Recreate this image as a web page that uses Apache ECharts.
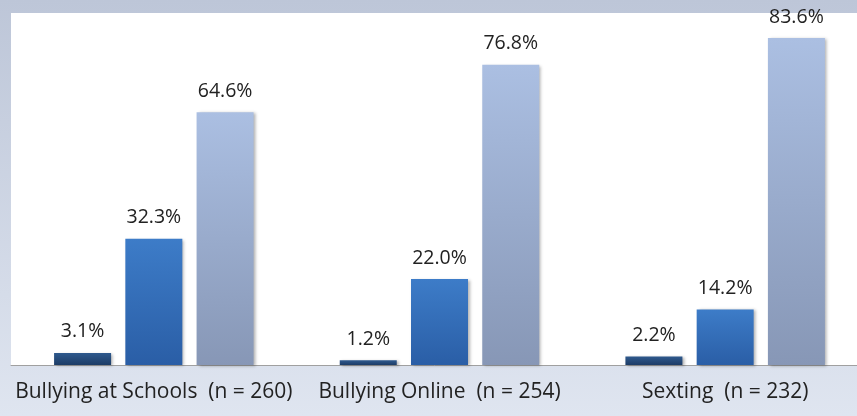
<!DOCTYPE html>
<html>
<head>
<meta charset="utf-8">
<script src="https://cdn.jsdelivr.net/npm/echarts@6/dist/echarts.min.js"></script>
<style>
  html, body { margin: 0; padding: 0; }
  #chart { width: 857px; height: 416px; }
</style>
</head>
<body>
<div id="chart"></div>
<script>
// categories and values
const categories = ['Bullying at Schools  (n = 260)', 'Bullying Online  (n = 254)', 'Sexting  (n = 232)'];
const seriesNames = ['Series 1', 'Series 2', 'Series 3'];
const values1 = [3.1, 1.2, 2.2];
const values2 = [32.3, 22.0, 14.2];
const values3 = [64.6, 76.8, 83.6];

const barColors = [
    ['#2f5a8e', '#1d3c66'],
    ['#3d7cc8', '#2a5ea6'],
    ['#abbfe2', '#8797b6']
];

function grad(c) {
    return new echarts.graphic.LinearGradient(0, 0, 0, 1, [
        {offset: 0, color: c[0]},
        {offset: 1, color: c[1]}
    ]);
}

function makeSeries(name, data, colorPair) {
    return {
        name: name,
        type: 'bar',
        data: data,
        barWidth: 57,
        barGap: '25%',
        itemStyle: {
            color: grad(colorPair),
            shadowColor: 'rgba(0,0,0,0.3)',
            shadowBlur: 3,
            shadowOffsetX: 2,
            shadowOffsetY: 1
        },
        label: {
            show: true,
            position: 'top',
            distance: 11,
            formatter: function(p) { return p.value.toFixed(1) + '%'; },
            color: '#222',
            fontSize: 19.5,
            fontFamily: 'Open Sans'
        }
    };
}

const chart = echarts.init(document.getElementById('chart'));

const option = {
    backgroundColor: new echarts.graphic.LinearGradient(0, 0, 0, 1, [
        {offset: 0, color: '#bdc6d8'},
        {offset: 1, color: '#dfe5f0'}
    ]),
    animation: false,
    grid: {
        left: 11,
        width: 857,
        top: 13,
        bottom: 51,
        outerBoundsMode: 'none',
        containLabel: false,
        show: true,
        backgroundColor: '#ffffff',
        borderWidth: 0
    },
    xAxis: {
        type: 'category',
        data: categories,
        axisLine: {lineStyle: {color: '#a0a0a0', width: 1}},
        axisTick: {show: false},
        axisLabel: {
            color: '#222',
            fontSize: 21,
            fontFamily: 'Open Sans',
            margin: 17,
            interval: 0
        }
    },
    yAxis: {
        type: 'value',
        min: 0,
        max: 90,
        show: false,
        splitLine: {show: false}
    },
    series: [
        makeSeries(seriesNames[0], values1, barColors[0]),
        makeSeries(seriesNames[1], values2, barColors[1]),
        makeSeries(seriesNames[2], values3, barColors[2])
    ]
};

chart.setOption(option);
window.addEventListener('resize', function() { chart.resize(); });
</script>
</body>
</html>
